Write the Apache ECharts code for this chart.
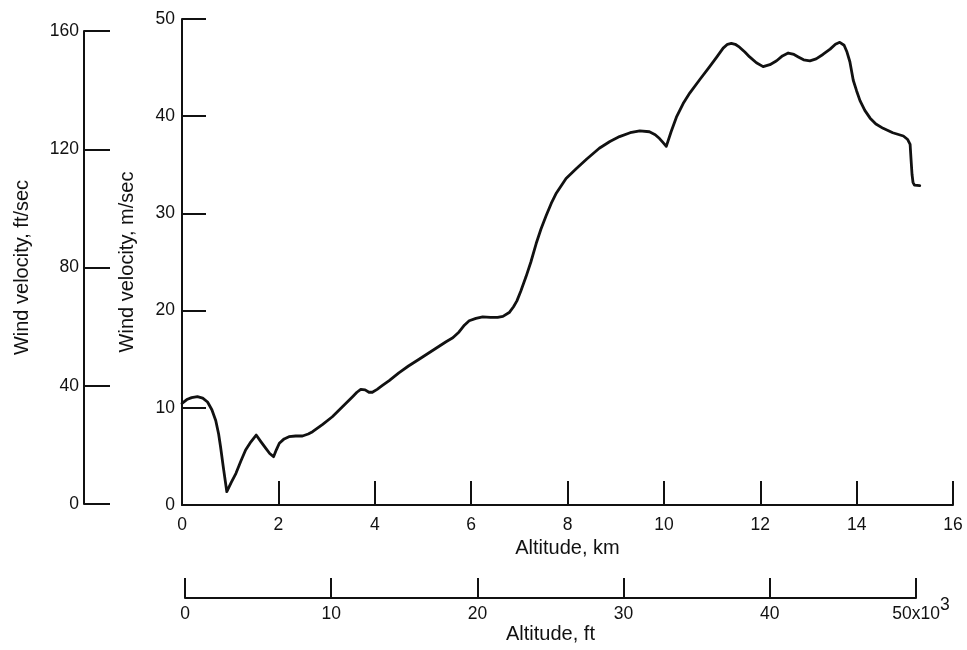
<!DOCTYPE html>
<html>
<head>
<meta charset="utf-8">
<title>Wind velocity vs altitude</title>
<script src="https://cdn.jsdelivr.net/npm/echarts@6/dist/echarts.min.js"></script>
<style>
  html, body { margin: 0; padding: 0; background: #fff; }
  #chart { width: 967px; height: 650px; }
</style>
</head>
<body>
<div id="chart"></div>
<script>
// Wind velocity profile, altitude in km
const altitudeKm = [
  0.00, 0.10, 0.20, 0.32, 0.43, 0.53, 0.62, 0.70, 0.76, 0.80, 0.86, 0.93,
  1.02, 1.12, 1.22, 1.32, 1.43, 1.54, 1.64, 1.74, 1.82, 1.90, 1.96, 2.02,
  2.12, 2.22, 2.36, 2.50, 2.62, 2.71, 2.92, 3.12, 3.33, 3.54, 3.63, 3.71,
  3.80, 3.88, 3.95, 4.05, 4.16, 4.30, 4.50, 4.70, 4.92, 5.20, 5.48, 5.62,
  5.75, 5.86, 5.96, 6.10, 6.24, 6.40, 6.55, 6.66, 6.79, 6.88, 6.95, 7.03,
  7.14, 7.24, 7.35, 7.45, 7.56, 7.66, 7.77, 7.97, 8.18, 8.40, 8.66, 8.88,
  9.08, 9.30, 9.50, 9.70, 9.82, 9.91, 9.98, 10.05, 10.15, 10.26, 10.40, 10.54,
  10.75, 10.95, 11.10, 11.23, 11.32, 11.40, 11.48, 11.57, 11.68, 11.78, 11.92, 12.06,
  12.20, 12.34, 12.46, 12.58, 12.70, 12.79, 12.90, 13.03, 13.16, 13.30, 13.45, 13.56,
  13.65, 13.74, 13.80, 13.86, 13.93, 14.00, 14.07, 14.17, 14.28, 14.40, 14.55, 14.75,
  14.97, 15.06, 15.11, 15.13, 15.15, 15.17, 15.20, 15.31
];
// Wind velocity, m/sec
const windMs = [
  10.45, 10.85, 11.05, 11.14, 11.00, 10.60, 9.80, 8.70, 7.30, 6.00, 3.80, 1.37,
  2.30, 3.26, 4.50, 5.66, 6.50, 7.20, 6.50, 5.83, 5.30, 4.97, 5.70, 6.35,
  6.80, 7.03, 7.10, 7.10, 7.30, 7.54, 8.30, 9.08, 10.10, 11.14, 11.60, 11.90,
  11.85, 11.60, 11.60, 11.90, 12.30, 12.80, 13.60, 14.30, 15.00, 15.90, 16.80, 17.20,
  17.80, 18.50, 18.95, 19.20, 19.35, 19.30, 19.30, 19.40, 19.80, 20.40, 21.00, 22.00,
  23.50, 25.00, 26.90, 28.40, 29.80, 31.00, 32.10, 33.60, 34.60, 35.60, 36.70, 37.40,
  37.90, 38.30, 38.50, 38.40, 38.10, 37.70, 37.30, 36.90, 38.40, 39.90, 41.30, 42.40,
  43.80, 45.10, 46.10, 47.00, 47.40, 47.50, 47.40, 47.10, 46.60, 46.10, 45.50, 45.10,
  45.30, 45.70, 46.20, 46.50, 46.35, 46.10, 45.80, 45.70, 45.90, 46.35, 46.90, 47.40,
  47.60, 47.30, 46.60, 45.60, 43.70, 42.60, 41.60, 40.60, 39.80, 39.20, 38.75, 38.30,
  37.96, 37.60, 37.10, 35.50, 34.00, 33.20, 32.90, 32.85
];

// Axis ranges
const kmRange = [0, 16, 2];          // min, max, interval
const msRange = [0, 50, 10];
const ftsRange = [0, 160, 40];       // ft/sec scale
const ftRange = [0, 50, 10];         // thousands of feet

const ink = '#111';
const tickFont = "'Liberation Sans', Arial, sans-serif";
const titleFont = "'Liberation Sans', Arial, sans-serif";

const tickLabel = (margin) => ({
  color: ink, fontFamily: tickFont, fontSize: 17.5, margin: margin
});
const nameStyle = { color: ink, fontFamily: titleFont, fontSize: 20 };
const line = { show: true, lineStyle: { color: ink, width: 2 } };

const chart = echarts.init(document.getElementById('chart'), null, { renderer: 'canvas' });

chart.setOption({
  backgroundColor: '#fff',
  animation: false,
  grid: [
    // main plot
    { left: 182, top: 19, width: 771, height: 486 },
    // ft/sec scale
    { left: 84, top: 31, width: 10, height: 473 },
    // altitude in feet
    { left: 185, top: 560, width: 731, height: 38 }
  ],
  xAxis: [
    {
      gridIndex: 0, type: 'value',
      min: kmRange[0], max: kmRange[1], interval: kmRange[2],
      name: 'Altitude, km', nameLocation: 'middle', nameGap: 32,
      nameTextStyle: nameStyle,
      axisLine: line,
      axisTick: { show: true, inside: true, length: 24, lineStyle: { color: ink, width: 2 } },
      axisLabel: tickLabel(11),
      splitLine: { show: false }
    },
    { gridIndex: 1, type: 'value', show: false },
    {
      gridIndex: 2, type: 'value',
      min: ftRange[0], max: ftRange[1], interval: ftRange[2],
      name: 'Altitude, ft', nameLocation: 'middle', nameGap: 26,
      nameTextStyle: nameStyle,
      axisLine: line,
      axisTick: { show: true, inside: true, length: 20, lineStyle: { color: ink, width: 2 } },
      axisLabel: Object.assign(tickLabel(-2), {
        // last tick carries the x10^3 multiplier as a superscript
        formatter: (v) => v === ftRange[1] ? '{p|}{b|' + v + 'x10}{s|3}' : '{b|' + v + '}',
        rich: {
          b: { color: ink, fontFamily: tickFont, fontSize: 17.5, lineHeight: 36 },
          s: { color: ink, fontFamily: tickFont, fontSize: 17.5, lineHeight: 20, verticalAlign: 'top' },
          p: { width: 10, lineHeight: 36 }
        }
      }),
      splitLine: { show: false }
    }
  ],
  yAxis: [
    {
      gridIndex: 0, type: 'value',
      min: msRange[0], max: msRange[1], interval: msRange[2],
      name: 'Wind velocity, m/sec', nameLocation: 'middle', nameGap: 45,
      nameTextStyle: nameStyle,
      axisLine: line,
      axisTick: { show: true, inside: true, length: 24, lineStyle: { color: ink, width: 2 } },
      axisLabel: tickLabel(7),
      splitLine: { show: false }
    },
    {
      gridIndex: 1, type: 'value',
      min: ftsRange[0], max: ftsRange[1], interval: ftsRange[2],
      name: 'Wind velocity, ft/sec', nameLocation: 'middle', nameGap: 52,
      nameTextStyle: nameStyle,
      axisLine: line,
      axisTick: { show: true, inside: true, length: 26, lineStyle: { color: ink, width: 2 } },
      axisLabel: tickLabel(5),
      splitLine: { show: false }
    },
    { gridIndex: 2, type: 'value', show: false }
  ],
  series: [
    {
      type: 'line',
      xAxisIndex: 0, yAxisIndex: 0,
      data: altitudeKm.map((x, i) => [x, windMs[i]]),
      showSymbol: false,
      smooth: false,
      lineStyle: { color: ink, width: 2.8, join: 'round', cap: 'round' }
    }
  ]
});
</script>
</body>
</html>
